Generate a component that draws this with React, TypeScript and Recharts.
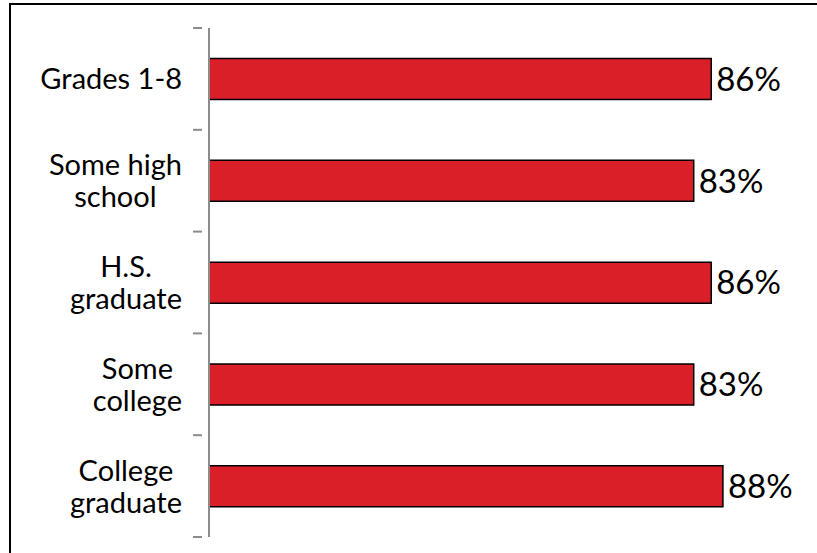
import { BarChart, Bar, XAxis, YAxis, LabelList } from 'recharts';

const categories = ['Grades 1-8', 'Some high school', 'H.S. graduate', 'Some college', 'College graduate'];
const categoryLines = [['Grades 1-8'], ['Some high', 'school'], ['H.S.', 'graduate'], ['Some', 'college'], ['College', 'graduate']];
const shares = [86, 83, 86, 83, 88];

const data = categories.map((name, i) => ({ name, value: shares[i] }));

const WIDTH = 817;
const HEIGHT = 553;
const MARGIN = { top: 28, right: 24, bottom: 16, left: 9 };
const AXIS_WIDTH = 200;
const BAND = (HEIGHT - MARGIN.top - MARGIN.bottom) / categories.length;
const FONT = 'Lato, "Open Sans", sans-serif';
const LABEL_SIZE = 29;
const LINE_H = 32;

let ctx: CanvasRenderingContext2D | null = null;
function textWidth(s: string) {
    if (!ctx) ctx = document.createElement('canvas').getContext('2d');
    if (!ctx) return s.length * LABEL_SIZE * 0.5;
    ctx.font = `${LABEL_SIZE}px Lato`;
    return ctx.measureText(s).width;
}

function CategoryTick(props: any) {
    const { x, y, index } = props;
    const lines = categoryLines[index] || [String(props.payload.value)];
    const widest = Math.max(...lines.map(textWidth));
    const right = x - 19;
    const cx = right - widest / 2;
    const cap = LABEL_SIZE * 0.72;
    return (
        <g>
            <line x1={x - 8} x2={x + 1} y1={y - BAND / 2} y2={y - BAND / 2} stroke="#8c8c8c" strokeWidth={2} />
            {index === categories.length - 1 && (
                <line x1={x - 8} x2={x + 1} y1={y + BAND / 2} y2={y + BAND / 2} stroke="#8c8c8c" strokeWidth={2} />
            )}
            {lines.map((l: string, i: number) => (
                <text key={i} x={cx} y={y + cap / 2 + (i - (lines.length - 1) / 2) * LINE_H} textAnchor="middle" fontSize={LABEL_SIZE} fontFamily={FONT} fill="#000">
                    {l}
                </text>
            ))}
        </g>
    );
}

export default function App() {
    return (
        <div style={{ position: 'fixed', left: 0, top: 0, width: WIDTH, height: HEIGHT, overflow: 'hidden', background: '#fff' }}>
            {/* frame only shows on top and left */}
            <div style={{ position: 'absolute', left: 9, top: 3, width: 1000, height: 1000, border: '2px solid #000' }} />
            <div style={{ position: 'absolute', left: 0, top: 0 }}>
                <BarChart width={WIDTH} height={HEIGHT} data={data} layout="vertical" margin={MARGIN} barCategoryGap="30%">
                    <XAxis type="number" domain={[0, 100]} hide />
                    <YAxis
                        type="category"
                        dataKey="name"
                        width={AXIS_WIDTH}
                        axisLine={{ stroke: '#8c8c8c', strokeWidth: 2 }}
                        tickLine={false}
                        tick={<CategoryTick />}
                        interval={0}
                    />
                    <Bar dataKey="value" fill="#da1f29" stroke="#000" strokeWidth={1.5} isAnimationActive={false}>
                        <LabelList dataKey="value" position="right" offset={5} formatter={(v: any) => `${v}%`} style={{ fontSize: 33, fontFamily: FONT, fill: '#000' }} />
                    </Bar>
                </BarChart>
            </div>
        </div>
    );
}
